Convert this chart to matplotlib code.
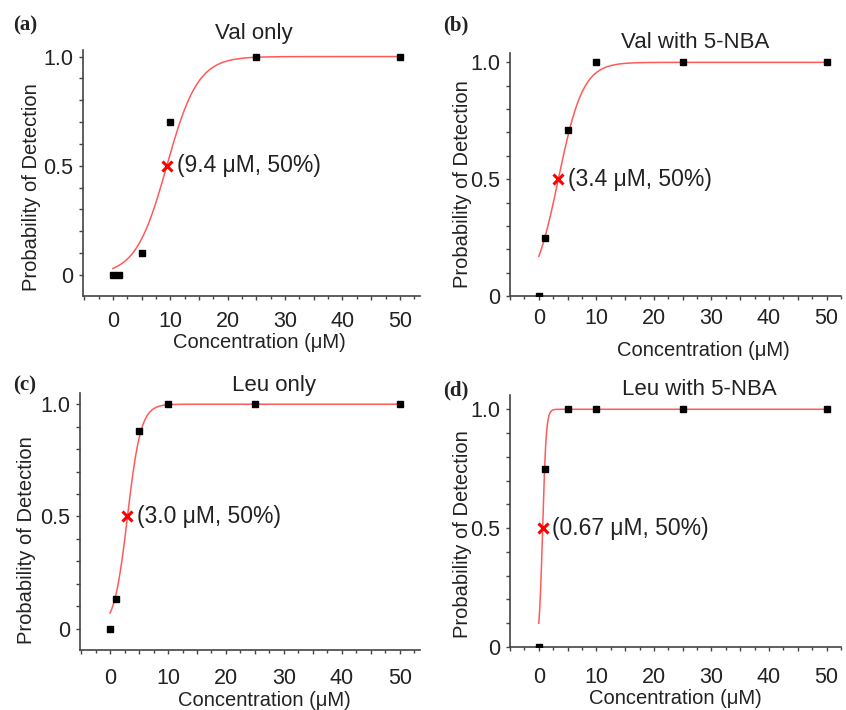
import numpy as np
import matplotlib.pyplot as plt
from matplotlib.ticker import MultipleLocator, FuncFormatter

plt.rcParams['font.family'] = ['Liberation Sans', 'DejaVu Sans']

# Measured detection probabilities per condition
conc = [0, 1, 5, 10, 25, 50]
val_only = [0, 0, 0.1, 0.7, 1.0, 1.0]
val_nba = [0, 0.25, 0.71, 1.0, 1.0, 1.0]
leu_only = [0, 0.13, 0.88, 1.0, 1.0, 1.0]
leu_nba = [0, 0.75, 1.0, 1.0, 1.0, 1.0]

# Fitted logistic parameters (50% point and slope width, uM)
ec50 = [9.4, 3.4, 3.0, 0.67]
width = [2.71, 2.14, 1.16, 0.305]
ec50_text = ["(9.4 μM, 50%)", "(3.4 μM, 50%)", "(3.0 μM, 50%)", "(0.67 μM, 50%)"]

titles = ["Val only", "Val with 5-NBA", "Leu only", "Leu with 5-NBA"]
tags = ["(a)", "(b)", "(c)", "(d)"]
series = [val_only, val_nba, leu_only, leu_nba]

W, H = 846, 710
fig = plt.figure(figsize=(W / 100, H / 100), dpi=100)

# pixel boxes: left, right, top, bottom ; plus limits
boxes = [(83, 420, 50, 296), (510, 841, 53, 296), (80, 420, 393, 650), (510, 841, 395, 647)]
ylims = [(-0.096, 1.03), (0, 1.04), (-0.095, 1.05), (0, 1.06)]
xlims = [(-5.2, 53.5), (-5.0, 52.5), (-5.2, 53.5), (-5.0, 52.5)]
xpads = [7.8, 5.6, 9.9, 11.5]
title_pos = [(254, 33), (695, 43), (274, 385), (699, 389)]
ylab_pos = [(32, 187), (462, 184), (27, 540), (462, 534)]
xlab_pos = [(259, 342), (703, 351), (264, 701), (675, 698)]
tag_pos = [(13, 25), (443, 25), (13, 385), (443, 390)]

dark = '#222222'

for i in range(4):
    l, r, t, b = boxes[i]
    ax = fig.add_axes([l / W, 1 - b / H, (r - l) / W, (b - t) / H])
    ax.set_xlim(*xlims[i])
    ax.set_ylim(*ylims[i])
    for s in ['top', 'right']:
        ax.spines[s].set_visible(False)
    for s in ['left', 'bottom']:
        ax.spines[s].set_color('#444444')
        ax.spines[s].set_linewidth(1.2)

    xs = np.linspace(0, 50, 600)
    ys = 1 / (1 + np.exp(-(xs - ec50[i]) / width[i]))
    ax.plot(xs, ys, color='#ff5a5a', lw=1.1, zorder=2)
    ax.plot(conc, series[i], 's', color='black', ms=5, zorder=3)
    ax.plot([ec50[i]], [0.5], 'x', color='red', ms=7.5, mew=2.2, zorder=4)
    ax.annotate(ec50_text[i], (ec50[i], 0.5), xytext=(7, 0), textcoords='offset points',
                va='center', ha='left', fontsize=16.5, color=dark)

    ax.xaxis.set_major_locator(MultipleLocator(5))
    ax.xaxis.set_minor_locator(MultipleLocator(2.5))
    ax.xaxis.set_major_formatter(FuncFormatter(lambda v, p: f"{int(v)}" if v >= 0 and v % 10 == 0 else ""))
    ax.yaxis.set_major_locator(MultipleLocator(0.1))
    ax.yaxis.set_major_formatter(FuncFormatter(
        lambda v, p: "0" if abs(v) < 1e-6 else ("0.5" if abs(v - 0.5) < 1e-6 else ("1.0" if abs(v - 1) < 1e-6 else ""))))
    ax.tick_params(axis='both', which='major', direction='out', length=3, width=1,
                   color='#444444', labelsize=15.5, labelcolor=dark, pad=4)
    ax.tick_params(axis='x', which='minor', direction='out', length=2, width=1, color='#444444')
    ax.tick_params(axis='x', which='major', pad=xpads[i])

    fig.text(title_pos[i][0] / W, 1 - title_pos[i][1] / H, titles[i], ha='center', va='center',
             fontsize=16, color=dark)
    fig.text(ylab_pos[i][0] / W, 1 - ylab_pos[i][1] / H, "Probability of Detection", rotation=90,
             ha='center', va='center', fontsize=14.5, color=dark)
    fig.text(xlab_pos[i][0] / W, 1 - xlab_pos[i][1] / H, "Concentration (μM)", ha='center',
             va='center', fontsize=14.5, color=dark)
    fig.text(tag_pos[i][0] / W, 1 - tag_pos[i][1] / H, tags[i], ha='left', va='center',
             fontsize=15, fontweight='bold', family='Liberation Serif', color=dark)

fig.savefig("out.png", dpi=100)
